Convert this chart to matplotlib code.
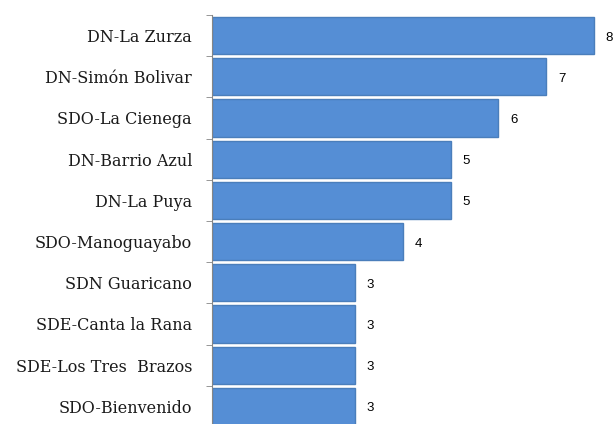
import numpy as np
import matplotlib.pyplot as plt

categories = ['DN-La Zurza', 'DN-Simón Bolivar', 'SDO-La Cienega', 'DN-Barrio Azul',
              'DN-La Puya', 'SDO-Manoguayabo', 'SDN Guaricano', 'SDE-Canta la Rana',
              'SDE-Los Tres  Brazos', 'SDO-Bienvenido']
values = [8, 7, 6, 5, 5, 4, 3, 3, 3, 3]

fig = plt.figure(figsize=(6.16, 4.24), dpi=100)
ax = fig.add_axes([211.5 / 616, -3 / 424, 404.5 / 616, 412 / 424])

y = np.arange(len(categories))
ax.barh(y, values, height=0.9, color='#558ED5', edgecolor='#4A7EBB', linewidth=1)

for yi, v in zip(y, values):
    ax.text(v + 0.25, yi + 0.05, str(v), va='center', ha='left',
            fontsize=9.5, family='Liberation Sans', color='black')

ax.set_xlim(0, 404.5 / 47.8)
ax.set_ylim(len(categories) - 0.5, -0.5)
ax.set_yticks(y)
ax.set_yticklabels(categories, family='DejaVu Serif', fontsize=11.5, color='#1a1a1a')
ax.set_yticks(np.arange(-0.5, len(categories), 1), minor=True)
ax.tick_params(axis='y', which='major', length=0, pad=14)
ax.tick_params(axis='y', which='minor', length=4, color='#868686')
ax.set_xticks([])

for s in ['top', 'right', 'bottom']:
    ax.spines[s].set_visible(False)
ax.spines['left'].set_color('#868686')

fig.savefig('out.png', dpi=100)
